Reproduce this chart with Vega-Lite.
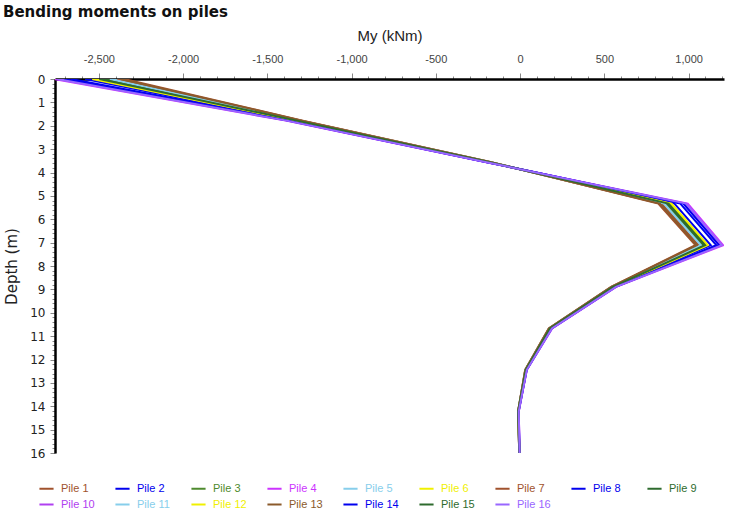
{
  "$schema": "https://vega.github.io/schema/vega-lite/v6.json",
  "width": 669,
  "height": 374,
  "autosize": {"type": "none"},
  "padding": {"left": 55, "top": 79, "right": 11, "bottom": 59},
  "background": "white",
  "config": {"view": {"stroke": null}},
  "title": {
    "text": "Bending moments on piles",
    "anchor": "start",
    "frame": "group",
    "dx": -52,
    "offset": 8,
    "font": "DejaVu Sans",
    "fontSize": 15,
    "fontWeight": "bold",
    "color": "#111"
  },
  "data": {"values": [
    {"pile":"Pile 1","depth":0,"my":-2350},{"pile":"Pile 1","depth":1.78,"my":-1290},{"pile":"Pile 1","depth":3.56,"my":-170},{"pile":"Pile 1","depth":5.33,"my":820},{"pile":"Pile 1","depth":7.11,"my":1040},{"pile":"Pile 1","depth":8.89,"my":540},{"pile":"Pile 1","depth":10.67,"my":170},{"pile":"Pile 1","depth":12.44,"my":30},{"pile":"Pile 1","depth":14.22,"my":-12},{"pile":"Pile 1","depth":16,"my":-5},
    {"pile":"Pile 2","depth":0,"my":-2581},{"pile":"Pile 2","depth":1.78,"my":-1345},{"pile":"Pile 2","depth":3.56,"my":-187},{"pile":"Pile 2","depth":5.33,"my":916},{"pile":"Pile 2","depth":7.11,"my":1131},{"pile":"Pile 2","depth":8.89,"my":557},{"pile":"Pile 2","depth":10.67,"my":181},{"pile":"Pile 2","depth":12.44,"my":36},{"pile":"Pile 2","depth":14.22,"my":-10},{"pile":"Pile 2","depth":16,"my":-4},
    {"pile":"Pile 3","depth":0,"my":-2455},{"pile":"Pile 3","depth":1.78,"my":-1315},{"pile":"Pile 3","depth":3.56,"my":-178},{"pile":"Pile 3","depth":5.33,"my":864},{"pile":"Pile 3","depth":7.11,"my":1081},{"pile":"Pile 3","depth":8.89,"my":548},{"pile":"Pile 3","depth":10.67,"my":175},{"pile":"Pile 3","depth":12.44,"my":33},{"pile":"Pile 3","depth":14.22,"my":-11},{"pile":"Pile 3","depth":16,"my":-5},
    {"pile":"Pile 4","depth":0,"my":-2770},{"pile":"Pile 4","depth":1.78,"my":-1390},{"pile":"Pile 4","depth":3.56,"my":-200},{"pile":"Pile 4","depth":5.33,"my":995},{"pile":"Pile 4","depth":7.11,"my":1205},{"pile":"Pile 4","depth":8.89,"my":570},{"pile":"Pile 4","depth":10.67,"my":190},{"pile":"Pile 4","depth":12.44,"my":40},{"pile":"Pile 4","depth":14.22,"my":-8},{"pile":"Pile 4","depth":16,"my":-3},
    {"pile":"Pile 5","depth":0,"my":-2413},{"pile":"Pile 5","depth":1.78,"my":-1305},{"pile":"Pile 5","depth":3.56,"my":-175},{"pile":"Pile 5","depth":5.33,"my":846},{"pile":"Pile 5","depth":7.11,"my":1065},{"pile":"Pile 5","depth":8.89,"my":545},{"pile":"Pile 5","depth":10.67,"my":173},{"pile":"Pile 5","depth":12.44,"my":32},{"pile":"Pile 5","depth":14.22,"my":-11},{"pile":"Pile 5","depth":16,"my":-5},
    {"pile":"Pile 6","depth":0,"my":-2518},{"pile":"Pile 6","depth":1.78,"my":-1330},{"pile":"Pile 6","depth":3.56,"my":-182},{"pile":"Pile 6","depth":5.33,"my":890},{"pile":"Pile 6","depth":7.11,"my":1106},{"pile":"Pile 6","depth":8.89,"my":552},{"pile":"Pile 6","depth":10.67,"my":178},{"pile":"Pile 6","depth":12.44,"my":34},{"pile":"Pile 6","depth":14.22,"my":-10},{"pile":"Pile 6","depth":16,"my":-4},
    {"pile":"Pile 7","depth":0,"my":-2392},{"pile":"Pile 7","depth":1.78,"my":-1300},{"pile":"Pile 7","depth":3.56,"my":-173},{"pile":"Pile 7","depth":5.33,"my":838},{"pile":"Pile 7","depth":7.11,"my":1057},{"pile":"Pile 7","depth":8.89,"my":543},{"pile":"Pile 7","depth":10.67,"my":172},{"pile":"Pile 7","depth":12.44,"my":31},{"pile":"Pile 7","depth":14.22,"my":-12},{"pile":"Pile 7","depth":16,"my":-5},
    {"pile":"Pile 8","depth":0,"my":-2665},{"pile":"Pile 8","depth":1.78,"my":-1365},{"pile":"Pile 8","depth":3.56,"my":-193},{"pile":"Pile 8","depth":5.33,"my":951},{"pile":"Pile 8","depth":7.11,"my":1164},{"pile":"Pile 8","depth":8.89,"my":563},{"pile":"Pile 8","depth":10.67,"my":185},{"pile":"Pile 8","depth":12.44,"my":38},{"pile":"Pile 8","depth":14.22,"my":-9},{"pile":"Pile 8","depth":16,"my":-4},
    {"pile":"Pile 9","depth":0,"my":-2476},{"pile":"Pile 9","depth":1.78,"my":-1320},{"pile":"Pile 9","depth":3.56,"my":-179},{"pile":"Pile 9","depth":5.33,"my":873},{"pile":"Pile 9","depth":7.11,"my":1090},{"pile":"Pile 9","depth":8.89,"my":549},{"pile":"Pile 9","depth":10.67,"my":176},{"pile":"Pile 9","depth":12.44,"my":33},{"pile":"Pile 9","depth":14.22,"my":-11},{"pile":"Pile 9","depth":16,"my":-4},
    {"pile":"Pile 10","depth":0,"my":-2728},{"pile":"Pile 10","depth":1.78,"my":-1380},{"pile":"Pile 10","depth":3.56,"my":-197},{"pile":"Pile 10","depth":5.33,"my":978},{"pile":"Pile 10","depth":7.11,"my":1189},{"pile":"Pile 10","depth":8.89,"my":567},{"pile":"Pile 10","depth":10.67,"my":188},{"pile":"Pile 10","depth":12.44,"my":39},{"pile":"Pile 10","depth":14.22,"my":-8},{"pile":"Pile 10","depth":16,"my":-3},
    {"pile":"Pile 11","depth":0,"my":-2434},{"pile":"Pile 11","depth":1.78,"my":-1310},{"pile":"Pile 11","depth":3.56,"my":-176},{"pile":"Pile 11","depth":5.33,"my":855},{"pile":"Pile 11","depth":7.11,"my":1073},{"pile":"Pile 11","depth":8.89,"my":546},{"pile":"Pile 11","depth":10.67,"my":174},{"pile":"Pile 11","depth":12.44,"my":32},{"pile":"Pile 11","depth":14.22,"my":-11},{"pile":"Pile 11","depth":16,"my":-5},
    {"pile":"Pile 12","depth":0,"my":-2539},{"pile":"Pile 12","depth":1.78,"my":-1335},{"pile":"Pile 12","depth":3.56,"my":-184},{"pile":"Pile 12","depth":5.33,"my":899},{"pile":"Pile 12","depth":7.11,"my":1114},{"pile":"Pile 12","depth":8.89,"my":554},{"pile":"Pile 12","depth":10.67,"my":179},{"pile":"Pile 12","depth":12.44,"my":35},{"pile":"Pile 12","depth":14.22,"my":-10},{"pile":"Pile 12","depth":16,"my":-4},
    {"pile":"Pile 13","depth":0,"my":-2371},{"pile":"Pile 13","depth":1.78,"my":-1295},{"pile":"Pile 13","depth":3.56,"my":-172},{"pile":"Pile 13","depth":5.33,"my":829},{"pile":"Pile 13","depth":7.11,"my":1048},{"pile":"Pile 13","depth":8.89,"my":542},{"pile":"Pile 13","depth":10.67,"my":171},{"pile":"Pile 13","depth":12.44,"my":31},{"pile":"Pile 13","depth":14.22,"my":-12},{"pile":"Pile 13","depth":16,"my":-5},
    {"pile":"Pile 14","depth":0,"my":-2707},{"pile":"Pile 14","depth":1.78,"my":-1375},{"pile":"Pile 14","depth":3.56,"my":-196},{"pile":"Pile 14","depth":5.33,"my":969},{"pile":"Pile 14","depth":7.11,"my":1180},{"pile":"Pile 14","depth":8.89,"my":566},{"pile":"Pile 14","depth":10.67,"my":187},{"pile":"Pile 14","depth":12.44,"my":39},{"pile":"Pile 14","depth":14.22,"my":-9},{"pile":"Pile 14","depth":16,"my":-3},
    {"pile":"Pile 15","depth":0,"my":-2497},{"pile":"Pile 15","depth":1.78,"my":-1325},{"pile":"Pile 15","depth":3.56,"my":-181},{"pile":"Pile 15","depth":5.33,"my":881},{"pile":"Pile 15","depth":7.11,"my":1098},{"pile":"Pile 15","depth":8.89,"my":551},{"pile":"Pile 15","depth":10.67,"my":177},{"pile":"Pile 15","depth":12.44,"my":34},{"pile":"Pile 15","depth":14.22,"my":-11},{"pile":"Pile 15","depth":16,"my":-4},
    {"pile":"Pile 16","depth":0,"my":-2749},{"pile":"Pile 16","depth":1.78,"my":-1385},{"pile":"Pile 16","depth":3.56,"my":-199},{"pile":"Pile 16","depth":5.33,"my":986},{"pile":"Pile 16","depth":7.11,"my":1197},{"pile":"Pile 16","depth":8.89,"my":569},{"pile":"Pile 16","depth":10.67,"my":189},{"pile":"Pile 16","depth":12.44,"my":40},{"pile":"Pile 16","depth":14.22,"my":-8},{"pile":"Pile 16","depth":16,"my":-3}
  ]},
  "mark": {"type": "line", "strokeWidth": 2, "clip": true},
  "encoding": {
    "x": {
      "field": "my",
      "type": "quantitative",
      "scale": {"domain": [-2760, 1210], "nice": false, "zero": false},
      "axis": {
        "orient": "top",
        "title": "My (kNm)",
        "titleFont": "Liberation Sans",
        "titleFontSize": 15,
        "titleFontWeight": "normal",
        "titleColor": "#222",
        "titlePadding": 10,
        "values": [-2700,-2600,-2500,-2400,-2300,-2200,-2100,-2000,-1900,-1800,-1700,-1600,-1500,-1400,-1300,-1200,-1100,-1000,-900,-800,-700,-600,-500,-400,-300,-200,-100,0,100,200,300,400,500,600,700,800,900,1000,1100,1200],
        "labelExpr": "datum.value % 500 === 0 ? replace(format(datum.value, ','), '\u2212', '-') : ''",
        "labelFont": "Liberation Sans",
        "labelFontSize": 11,
        "labelColor": "#444",
        "labelPadding": 9,
        "labelOverlap": false,
        "labelFlush": false,
        "tickSize": {"condition": {"test": "datum.value % 500 === 0", "value": 6}, "value": 3},
        "tickColor": "#888",
        "domainColor": "#000",
        "domainWidth": 2.5,
        "grid": false
      }
    },
    "y": {
      "field": "depth",
      "type": "quantitative",
      "scale": {"domain": [0, 16], "reverse": true, "nice": false},
      "axis": {
        "title": "Depth (m)",
        "titleFont": "DejaVu Sans",
        "titleFontSize": 15,
        "titleFontWeight": "normal",
        "titleColor": "#222",
        "titlePadding": 10,
        "values": [0,0.2,0.4,0.6,0.8,1,1.2,1.4,1.6,1.8,2,2.2,2.4,2.6,2.8,3,3.2,3.4,3.6,3.8,4,4.2,4.4,4.6,4.8,5,5.2,5.4,5.6,5.8,6,6.2,6.4,6.6,6.8,7,7.2,7.4,7.6,7.8,8,8.2,8.4,8.6,8.8,9,9.2,9.4,9.6,9.8,10,10.2,10.4,10.6,10.8,11,11.2,11.4,11.6,11.8,12,12.2,12.4,12.6,12.8,13,13.2,13.4,13.6,13.8,14,14.2,14.4,14.6,14.8,15,15.2,15.4,15.6,15.8,16],
        "labelExpr": "datum.value % 1 === 0 ? datum.value : ''",
        "labelFont": "DejaVu Sans",
        "labelFontSize": 12,
        "labelColor": "#222",
        "labelPadding": 5,
        "labelOverlap": false,
        "labelFlush": false,
        "tickSize": {"condition": {"test": "datum.value % 1 === 0", "value": 5}, "value": 3},
        "tickColor": "#888",
        "domainColor": "#000",
        "domainWidth": 2.5,
        "grid": false
      }
    },
    "order": {"field": "depth", "type": "quantitative"},
    "color": {
      "field": "pile",
      "type": "nominal",
      "scale": {
        "domain": ["Pile 1","Pile 2","Pile 3","Pile 4","Pile 5","Pile 6","Pile 7","Pile 8","Pile 9","Pile 10","Pile 11","Pile 12","Pile 13","Pile 14","Pile 15","Pile 16"],
        "range": ["#A0522D","#0000EE","#4E8A2E","#CC33FF","#87CEEB","#F0F000","#A0522D","#0000EE","#2E6B2E","#B040F0","#87CEEB","#F0F000","#8B5A2B","#0000EE","#2E6B2E","#9966FF"]
      },
      "legend": {
        "title": null,
        "orient": "none",
        "legendX": -17,
        "legendY": 401,
        "direction": "horizontal",
        "columns": 9,
        "gridAlign": "all",
        "columnPadding": 16,
        "rowPadding": 2,
        "symbolType": "stroke",
        "symbolSize": 200,
        "symbolStrokeWidth": 2,
        "labelFont": "Liberation Sans",
        "labelFontSize": 11,
        "labelOffset": 6,
        "labelColor": {"expr": "scale('color', datum.value)"}
      }
    }
  }
}
